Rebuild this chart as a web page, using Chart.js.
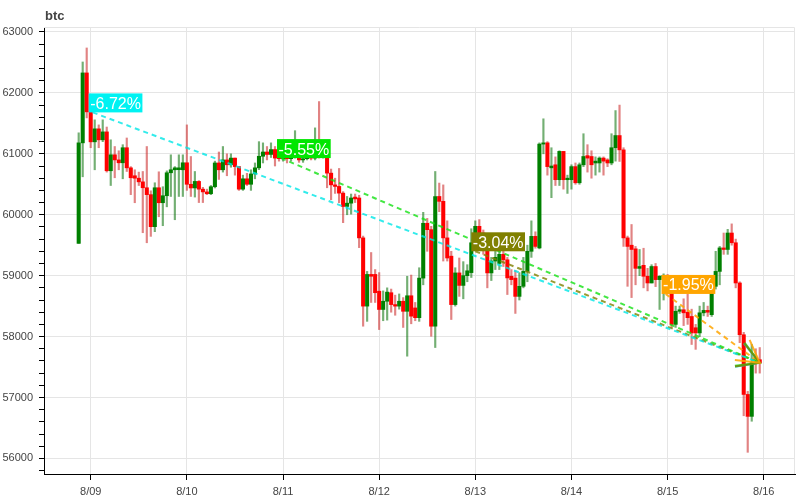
<!DOCTYPE html>
<html>
<head>
<meta charset="utf-8">
<title>btc</title>
<script src="https://cdn.jsdelivr.net/npm/chart.js@4.4.1/dist/chart.umd.min.js"></script>
<style>
  html, body { margin: 0; padding: 0; background: #fff; }
  #wrap { width: 800px; height: 500px; }
</style>
</head>
<body>
<div id="wrap"><canvas id="btcChart" width="800" height="500"></canvas></div>
<script>
// hourly candles, first one is 8/08 21:00 (hour -3 counted from 8/09 00:00)
const firstHour = -3;
const dayLabels = ['8/09', '8/10', '8/11', '8/12', '8/13', '8/14', '8/15', '8/16'];

const open = [
  59530, 61180, 62328,
  61689, 61197, 61410, 61230, 61360, 60722, 60984, 60900, 60853, 61100, 60770, 60640,
  60600, 60540, 60443, 60330, 59804, 60443, 60197, 60312, 60689, 60738, 60740, 60738,
  60853, 60500, 60440, 60547, 60420, 60375, 60345, 60460, 60850, 60738, 60900, 60820,
  60930, 60790, 60420, 60590, 60500, 60670, 60770, 60960, 61030, 60990, 61070, 60960,
  60920, 60950, 60920, 60960, 61000, 60900, 60920, 60960, 60930, 60990, 60960, 61000,
  60683, 60490, 60465, 60355, 60136, 60190, 60290, 60275, 59620, 58500, 59020, 59020,
  58745, 58445, 58580, 58720, 58525, 58500, 58580, 58415, 58670, 58470, 58310, 58960,
  59860, 59755, 58170, 60300, 60220, 59620, 59320, 58525, 59045, 58840, 59000, 59050,
  59540, 59810, 59700, 59450, 59045, 59240, 59200, 59350, 59260, 58990, 58960, 58660,
  58825, 59070, 59400, 59645, 59455, 61160, 61180, 60770, 60820, 60575, 61040, 60575,
  60575, 60790, 60525, 60820, 60970, 60956, 60850, 60850, 60930, 60900, 60850, 61100,
  61300, 61065, 59620, 59500, 59440, 59120, 59170, 58990, 58880, 59150, 58935, 58990,
  59000, 58770, 58200, 58415, 58440, 58400, 58330, 58145, 58060, 58390, 58430, 58360,
  58825, 59070, 59455, 59430, 59700, 59540, 58880, 58030, 57050, 56690, 57650, 57620
];
const high = [
  61345, 62508, 62738,
  61720, 61558, 61475, 61558, 61440, 61230, 61120, 61050, 61150, 61260, 60790, 60738,
  60700, 60710, 61120, 60393, 60525, 60705, 60460, 60720, 60984, 60790, 60984, 60984,
  61475, 60956, 60710, 60560, 60450, 60420, 60480, 60880, 61030, 61120, 61000, 61000,
  60930, 60790, 60650, 60680, 60738, 60850, 61200, 61180, 61120, 61180, 61120, 61020,
  61000, 61050, 61080, 61380, 61050, 60980, 61050, 61100, 61426, 61858, 61100, 61050,
  60750, 60600, 60760, 60380, 60300, 60340, 60340, 60320, 59650, 59070, 59380, 59100,
  59050, 58750, 58800, 58780, 58680, 58700, 58640, 58990, 59010, 58560, 59130, 60040,
  59940, 59810, 60710, 60520, 60490, 59900, 59400, 59130, 59290, 59230, 59180, 59770,
  59900, 59920, 59750, 59500, 59300, 59420, 59450, 59400, 59300, 59100, 59080, 59050,
  59300, 59500, 59900, 59720, 61180, 61575, 61200, 61100, 60950, 61050, 61040, 60650,
  60820, 60850, 60850, 61330, 61150, 61050, 60950, 60950, 60950, 60920, 61330, 61710,
  61800, 61100, 59650, 59840, 59480, 59430, 59450, 59120, 59180, 59200, 59000, 59030,
  59020, 58800, 58500, 58500, 58620, 58700, 58450, 58200, 58500, 58560, 58500, 59000,
  59400, 59480, 59700, 59760, 59850, 59600, 58900, 58070, 57100, 57870, 57800, 57820
];
const low = [
  59530, 60623, 61590,
  61100, 60738, 61100, 61200, 60700, 60480, 60607, 60738, 60590, 60710, 60330, 60197,
  60480, 59705, 59540, 59645, 59722, 59967, 59820, 60130, 60300, 59918, 60300, 60300,
  60400, 60300, 60290, 60200, 60200, 60330, 60330, 60440, 60580, 60700, 60640, 60780,
  60650, 60400, 60400, 60480, 60400, 60590, 60740, 60850, 60900, 60940, 60800, 60880,
  60880, 60850, 60880, 60930, 60860, 60860, 60900, 60900, 60900, 60930, 60930, 60443,
  60246, 60350, 60197, 59870, 60000, 60010, 60200, 59460, 58170, 58250, 58560, 58560,
  58115, 58260, 58270, 58400, 58350, 58450, 58150, 57678, 58210, 58260, 58250, 58850,
  59400, 58005, 57820, 60050, 59240, 59240, 58280, 58500, 58660, 58620, 58900, 58970,
  59450, 59480, 59350, 58800, 58920, 59100, 59100, 59150, 58690, 58850, 58380, 58600,
  58800, 58900, 59300, 59450, 59440, 61000, 60650, 60280, 60480, 60480, 60420, 60350,
  60420, 60500, 60500, 60790, 60700, 60600, 60650, 60700, 60650, 60790, 60820, 60880,
  60875, 59480, 58825, 58640, 58850, 59000, 58800, 58750, 58880, 58820, 58445, 58600,
  58700, 58150, 58150, 58380, 58180, 58200, 57870, 57790, 58000, 58340, 58330, 58330,
  58780, 58850, 59350, 59350, 59500, 58800, 57900, 56700, 56100, 56610, 57400, 57400
];
const close = [
  61180, 62328, 61689,
  61197, 61410, 61230, 61360, 60722, 60984, 60900, 60853, 61100, 60770, 60607, 60600,
  60540, 60443, 60330, 59804, 60443, 60197, 60312, 60689, 60738, 60770, 60770, 60853,
  60500, 60440, 60547, 60420, 60375, 60345, 60460, 60850, 60738, 60900, 60820, 60930,
  60790, 60420, 60590, 60500, 60670, 60770, 60960, 61030, 60990, 61070, 60930, 60920,
  60950, 60920, 60960, 61000, 60900, 60920, 60960, 60930, 60990, 60960, 61000, 60683,
  60490, 60465, 60355, 60136, 60190, 60275, 60260, 59620, 58500, 59020, 58990, 58720,
  58445, 58580, 58730, 58525, 58500, 58580, 58415, 58670, 58335, 58310, 58960, 59860,
  59755, 58170, 60300, 60220, 59620, 59290, 58525, 59045, 58840, 59000, 59080, 59540,
  59810, 59700, 59450, 59045, 59240, 59300, 59350, 59260, 58963, 58935, 58660, 58825,
  59070, 59400, 59645, 59480, 61160, 61180, 60790, 60800, 60575, 61040, 60575, 60600,
  60790, 60525, 60820, 60956, 60930, 60820, 60880, 60930, 60880, 60850, 61100, 61300,
  61065, 59620, 59480, 59430, 59120, 59150, 58990, 58880, 59150, 58935, 58990, 59000,
  58770, 58200, 58415, 58440, 58390, 58310, 58060, 58060, 58390, 58430, 58400, 58825,
  59070, 59455, 59430, 59700, 59540, 58880, 58030, 57050, 56690, 57570, 57600, 57570
];

// trend annotations: start point -> last close, with the change in percent
const trendLabels = ['-6.72%', '-5.55%', '-3.04%', '-1.95%'];
const trendStartHour = [0.5, 47.5, 96, 143.5];
const trendStartPrice = [61680, 60930, 59400, 58700];
const trendEndHour = 167;
const trendEndPrice = 57570;

const trendLineColors = ['rgba(0,230,230,0.8)', 'rgba(20,225,20,0.8)', 'rgba(128,128,0,0.8)', 'rgba(255,165,0,0.85)'];
const trendBoxColors = ['#00f2f2', '#00e600', '#808000', '#ffa500'];

const upColor = '#008000';
const downColor = '#ff0000';

const isUp = open.map((o, i) => close[i] >= o);
const bodyData = open.map((o, i) => ({ x: firstHour + i, y: [o, close[i]] }));
const wickData = open.map((o, i) => ({ x: firstHour + i, y: [low[i], high[i]] }));

Chart.defaults.font.family = '"Liberation Sans", Arial, Helvetica, sans-serif';
Chart.defaults.font.size = 11;
Chart.defaults.color = '#444';

// light frame on top/right, and the title
const framePlugin = {
  id: 'frame',
  beforeDatasetsDraw(chart) {
    const { ctx, chartArea: a } = chart;
    ctx.save();
    ctx.strokeStyle = '#e5e5e5';
    ctx.lineWidth = 1;
    ctx.beginPath();
    ctx.moveTo(a.left, a.top + 0.5);
    ctx.lineTo(a.right - 0.5, a.top + 0.5);
    ctx.lineTo(a.right - 0.5, a.bottom);
    ctx.stroke();
    ctx.restore();
  },
  afterDraw(chart) {
    const ctx = chart.ctx;
    ctx.save();
    ctx.font = 'bold 13px "Liberation Sans", Arial, sans-serif';
    ctx.fillStyle = '#444';
    ctx.textBaseline = 'alphabetic';
    ctx.fillText('btc', 45, 20);
    ctx.restore();
  }
};

// arrow heads and percentage boxes for the trend lines
const trendPlugin = {
  id: 'trends',
  afterDatasetsDraw(chart) {
    const { ctx, scales } = chart;
    const ex = scales.x.getPixelForValue(trendEndHour);
    const ey = scales.y.getPixelForValue(trendEndPrice);
    ctx.save();
    trendLabels.forEach((label, i) => {
      const sx = scales.x.getPixelForValue(trendStartHour[i]);
      const sy = scales.y.getPixelForValue(trendStartPrice[i]);
      const ang = Math.atan2(ey - sy, ex - sx);
      const len = 25;
      ctx.strokeStyle = trendLineColors[i];
      ctx.lineWidth = 2;
      ctx.setLineDash([]);
      ctx.beginPath();
      ctx.moveTo(ex - len * Math.cos(ang - Math.PI / 6), ey - len * Math.sin(ang - Math.PI / 6));
      ctx.lineTo(ex, ey);
      ctx.lineTo(ex - len * Math.cos(ang + Math.PI / 6), ey - len * Math.sin(ang + Math.PI / 6));
      ctx.stroke();
    });
    ctx.font = '16px "Liberation Sans", Arial, sans-serif';
    ctx.textBaseline = 'alphabetic';
    trendLabels.forEach((label, i) => {
      const sx = scales.x.getPixelForValue(trendStartHour[i]);
      const sy = scales.y.getPixelForValue(trendStartPrice[i]);
      const w = ctx.measureText(label).width + 3;
      const bx = sx - 4;
      const by = sy - 19;
      ctx.fillStyle = trendBoxColors[i];
      ctx.fillRect(bx, by, w, 19);
      ctx.fillStyle = '#fff';
      ctx.fillText(label, bx + 1.5, sy - 3.5);
    });
    ctx.restore();
  }
};

const trendDatasets = trendLabels.map((label, i) => ({
  type: 'line',
  label: label,
  data: [{ x: trendStartHour[i], y: trendStartPrice[i] }, { x: trendEndHour, y: trendEndPrice }],
  borderColor: trendLineColors[i],
  borderWidth: 2,
  borderDash: [5, 4],
  pointRadius: 0,
  fill: false,
  order: 0
}));

new Chart(document.getElementById('btcChart'), {
  type: 'bar',
  data: {
    datasets: [
      ...trendDatasets,
      {
        label: 'body',
        data: bodyData,
        backgroundColor: isUp.map(u => u ? upColor : downColor),
        borderWidth: 0,
        barThickness: 3.4,
        minBarLength: 1,
        grouped: false,
        order: 1
      },
      {
        label: 'wick',
        data: wickData,
        backgroundColor: isUp.map(u => u ? 'rgba(0,110,0,0.55)' : 'rgba(200,30,30,0.55)'),
        borderWidth: 0,
        barThickness: 1.5,
        grouped: false,
        order: 2
      }
    ]
  },
  options: {
    responsive: false,
    devicePixelRatio: 1,
    animation: false,
    layout: { padding: { top: 27, right: 5, left: 0, bottom: 0 } },
    plugins: {
      legend: { display: false },
      tooltip: { enabled: false }
    },
    scales: {
      x: {
        type: 'linear',
        min: -11.66,
        max: 175.8,
        offset: false,
        grid: { color: '#e5e5e5', tickColor: '#000', tickLength: 6, offset: false },
        border: { color: '#000', width: 1 },
        ticks: {
          stepSize: 24,
          includeBounds: false,
          autoSkip: false,
          maxRotation: 0,
          padding: 5,
          color: '#444',
          callback: v => dayLabels[Math.round(v / 24)]
        },
        afterFit: scale => { scale.height = 26; }
      },
      y: {
        type: 'linear',
        min: 55744,
        max: 63082,
        grid: {
          color: ctx => (ctx.tick && Math.round(ctx.tick.value) % 1000 === 0) ? '#e5e5e5' : 'rgba(0,0,0,0)',
          tickColor: '#000',
          tickLength: 5
        },
        border: { color: '#000', width: 1 },
        ticks: {
          stepSize: 200,
          includeBounds: false,
          autoSkip: false,
          padding: 6,
          color: '#444',
          callback: v => (Math.round(v) % 1000 === 0) ? String(Math.round(v)) : ''
        },
        afterFit: scale => { scale.width = 44; }
      }
    }
  },
  plugins: [framePlugin, trendPlugin]
});
</script>
</body>
</html>
